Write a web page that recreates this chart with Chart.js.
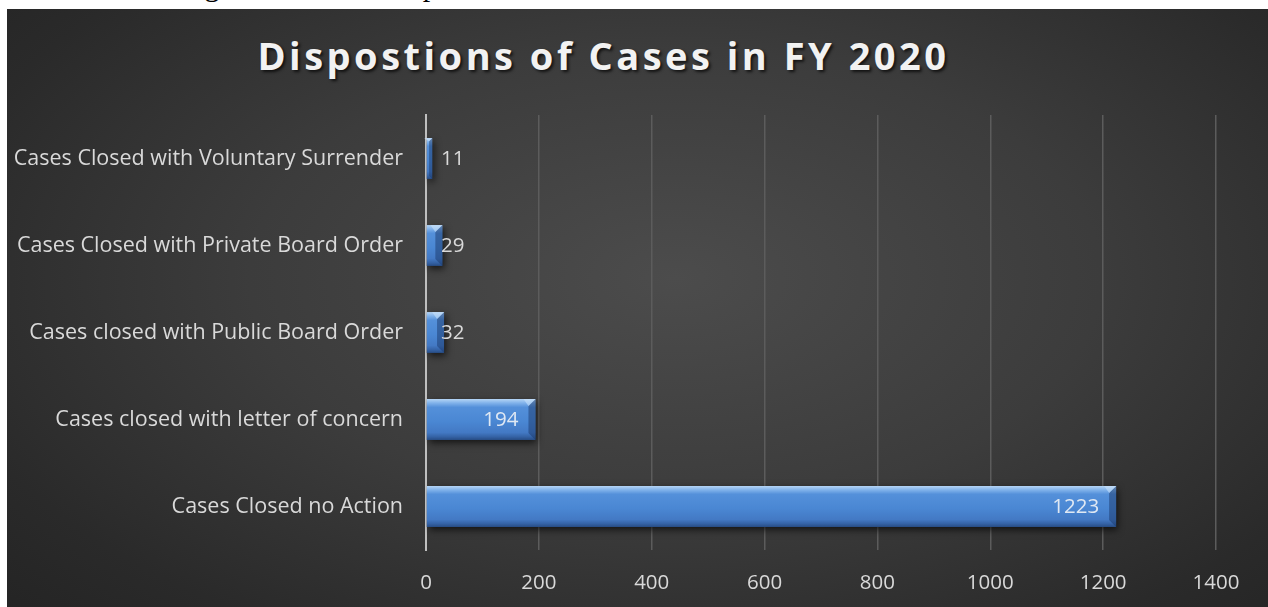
<!DOCTYPE html>
<html>
<head>
<meta charset="utf-8">
<script src="https://cdn.jsdelivr.net/npm/chart.js@4.4.1/dist/chart.umd.min.js"></script>
<style>
  html, body { margin: 0; padding: 0; background: #fff; overflow: hidden; }
  body { width: 1268px; height: 607px; position: relative; }
  #docline {
    position: absolute; left: 7px; top: -29px; white-space: nowrap;
    font-family: "Liberation Serif", serif; font-size: 30px; line-height: 30px;
    word-spacing: 25px; color: #000;
  }
  #box {
    position: absolute; left: 7px; top: 9px; width: 1261px; height: 598px;
    background: radial-gradient(ellipse 75% 85% at 53% 45%, #4c4c4c 0%, #3c3c3c 45%, #2a2a2a 80%, #232323 100%);
  }
  #title {
    position: absolute; left: -34px; width: 1261px; top: 20px; text-align: center;
    font-family: "Open Sans", sans-serif; font-weight: bold; font-size: 38px;
    line-height: 52px; letter-spacing: 3.5px; color: #f2f2f2;
    text-shadow: 2px 2px 3px rgba(0,0,0,0.7);
  }
  canvas { position: absolute; left: 0; top: 0; }
</style>
</head>
<body>
<div id="docline">resolved through various dispositions.</div>
<div id="box">
  <div id="title">Dispostions of Cases in FY 2020</div>
  <canvas id="bars" width="1261" height="598"></canvas>
</div>
<script>
var categories = [
    "Cases Closed with Voluntary Surrender",
    "Cases Closed with Private Board Order",
    "Cases closed with Public Board Order",
    "Cases closed with letter of concern",
    "Cases Closed no Action"
];
var counts = [11, 29, 32, 194, 1223];
var xTicks = [0, 200, 400, 600, 800, 1000, 1200, 1400];

var labelFont = '"Open Sans", sans-serif';

function bevelGradient(ctx, top, h) {
    var g = ctx.createLinearGradient(0, top, 0, top + h);
    g.addColorStop(0, '#b4d4f5');
    g.addColorStop(0.1, '#7fb1ea');
    g.addColorStop(0.2, '#5490da');
    g.addColorStop(0.55, '#4a87d3');
    g.addColorStop(0.82, '#4379c4');
    g.addColorStop(0.92, '#3563a6');
    g.addColorStop(1, '#274c84');
    return g;
}

// gradient fill, shadow, bevel and value labels on the bars
var barDeco = {
    id: 'barDeco',
    beforeDatasetsDraw: function(chart) {
        var ctx = chart.ctx;
        chart.getDatasetMeta(0).data.forEach(function(el) {
            el.options.backgroundColor = bevelGradient(ctx, el.y - el.height / 2, el.height);
        });
        ctx.save();
        ctx.shadowColor = 'rgba(0,0,0,0.65)';
        ctx.shadowBlur = 7;
        ctx.shadowOffsetX = 2;
        ctx.shadowOffsetY = 3;
    },
    afterDatasetsDraw: function(chart) {
        var ctx = chart.ctx;
        ctx.restore();
        var meta = chart.getDatasetMeta(0);
        var base = chart.scales.x.getPixelForValue(0);
        meta.data.forEach(function(el, i) {
            var top = el.y - el.height / 2, bot = el.y + el.height / 2;
            var right = el.x, b = Math.min(7, (right - base) / 2);
            ctx.save();
            // right bevel
            ctx.fillStyle = 'rgba(25,55,105,0.5)';
            ctx.beginPath();
            ctx.moveTo(right, top);
            ctx.lineTo(right, bot);
            ctx.lineTo(right - b, bot - b);
            ctx.lineTo(right - b, top + b);
            ctx.closePath();
            ctx.fill();
            // top-right corner highlight
            ctx.fillStyle = 'rgba(200,225,250,0.6)';
            ctx.beginPath();
            ctx.moveTo(right, top);
            ctx.lineTo(right - b, top + b);
            ctx.lineTo(right - b - 5, top);
            ctx.closePath();
            ctx.fill();
            ctx.restore();

            var txt = String(counts[i]);
            ctx.save();
            ctx.font = '20.5px ' + labelFont;
            ctx.textBaseline = 'middle';
            var w = ctx.measureText(txt).width;
            if (right - base > w + 34) {
                ctx.fillStyle = '#dfe8f3';
                ctx.textAlign = 'right';
                ctx.fillText(txt, right - 17, el.y + 1);
            } else {
                ctx.fillStyle = '#d9d9d9';
                ctx.textAlign = 'left';
                ctx.fillText(txt, base + 15, el.y + 1);
            }
            ctx.restore();
        });
    }
};

var ctx = document.getElementById('bars').getContext('2d');
var chart = new Chart(ctx, {
    type: 'bar',
    data: {
        labels: categories,
        datasets: [{
            data: counts,
            backgroundColor: function() { return '#4a87d3'; },
            borderWidth: 0,
            barPercentage: 0.47,
            categoryPercentage: 1
        }]
    },
    options: {
        indexAxis: 'y',
        responsive: false,
        animation: false,
        layout: { padding: { top: 106, right: 52, left: 0, bottom: 0 } },
        plugins: {
            legend: { display: false },
            tooltip: { enabled: false },
            title: { display: false }
        },
        scales: {
            x: {
                min: 0,
                max: 1400,
                afterBuildTicks: function(scale) {
                    scale.ticks = xTicks.map(function(v) { return { value: v }; });
                },
                afterFit: function(scale) { scale.height = 57; },
                grid: {
                    drawTicks: false,
                    lineWidth: 1.5,
                    color: function(c) { return c.tick && c.tick.value === 0 ? 'rgba(0,0,0,0)' : '#5c5c5c'; }
                },
                border: { display: false },
                ticks: {
                    padding: 21,
                    color: '#d9d9d9',
                    font: { family: labelFont, size: 20.5 },
                    callback: function(v) { return String(v); }
                }
            },
            y: {
                afterFit: function(scale) { scale.width = 419; },
                grid: { display: false, drawTicks: false },
                border: { display: true, color: '#bfbfbf', width: 2 },
                ticks: {
                    padding: 23,
                    color: '#d9d9d9',
                    font: { family: labelFont, size: 21.5 }
                }
            }
        }
    },
    plugins: [barDeco]
});
</script>
</body>
</html>
